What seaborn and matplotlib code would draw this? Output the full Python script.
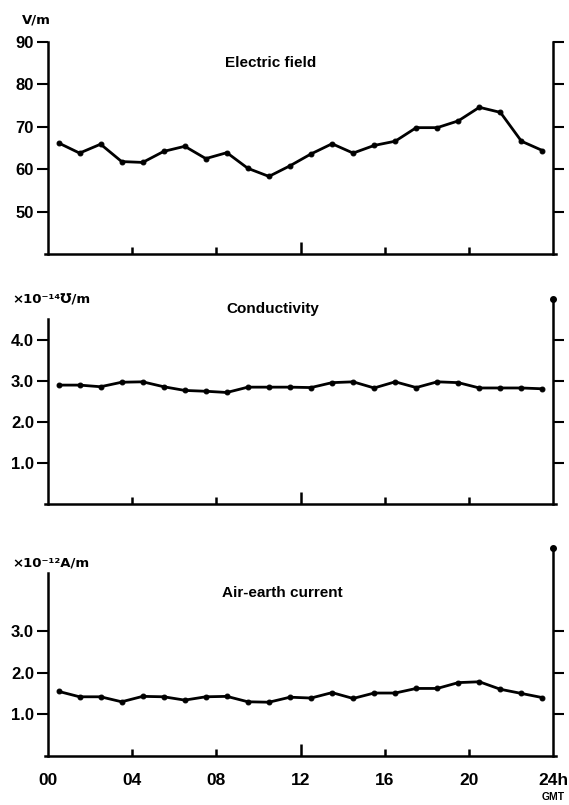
import numpy as np
import pandas as pd
import matplotlib
matplotlib.use("Agg")
import matplotlib.pyplot as plt
import seaborn as sns

sns.set_theme(style="white")
plt.rcParams['font.family'] = ['Liberation Sans', 'DejaVu Sans']
plt.rcParams['text.color'] = 'black'
plt.rcParams['xtick.color'] = 'black'
plt.rcParams['ytick.color'] = 'black'

hours = [0.5, 1.5, 2.5, 3.5, 4.5, 5.5, 6.5, 7.5, 8.5, 9.5, 10.5, 11.5,
         12.5, 13.5, 14.5, 15.5, 16.5, 17.5, 18.5, 19.5, 20.5, 21.5, 22.5, 23.5]
electric_field = [66.2, 63.8, 65.9, 61.8, 61.6, 64.2, 65.4, 62.5, 63.9, 60.2, 58.3, 60.8,
                  63.6, 66.0, 63.8, 65.6, 66.6, 69.8, 69.8, 71.4, 74.6, 73.4, 66.6, 64.4]
conductivity = [2.90, 2.90, 2.86, 2.97, 2.98, 2.86, 2.77, 2.75, 2.72, 2.85, 2.85, 2.85,
                2.84, 2.96, 2.98, 2.83, 2.98, 2.84, 2.98, 2.96, 2.83, 2.83, 2.83, 2.81]
air_earth = [1.55, 1.42, 1.42, 1.30, 1.43, 1.42, 1.34, 1.42, 1.43, 1.30, 1.29, 1.41,
             1.39, 1.52, 1.38, 1.51, 1.51, 1.62, 1.62, 1.76, 1.78, 1.60, 1.50, 1.40]

x_ticks = [0, 4, 8, 12, 16, 20, 24]
x_tick_labels = ["00", "04", "08", "12", "16", "20", "24h"]

panels = [
    dict(values=electric_field, title="Electric field", unit="V/m",
         ylim=(40, 90), left_top=90, lticks=[50, 60, 70, 80, 90],
         lticklabels=["50", "60", "70", "80", "90"], rticks=[50, 60, 70, 80, 90],
         pos=[48/569, 1-254/805, 505/569, 212/805], title_xy=(0.44, 0.9),
         unit_xy=(22/569, 1-20/805), dot=False),
    dict(values=conductivity, title="Conductivity", unit="×10⁻¹⁴℧/m",
         ylim=(0, 5.0), left_top=4.5, lticks=[1.0, 2.0, 3.0, 4.0],
         lticklabels=["1.0", "2.0", "3.0", "4.0"], rticks=[1.0, 2.0, 3.0, 4.0],
         pos=[48/569, 1-504/805, 505/569, 205/805], title_xy=(0.446, 0.95),
         unit_xy=(12/569, 1-300/805), dot=True),
    dict(values=air_earth, title="Air-earth current", unit="×10⁻¹²A/m",
         ylim=(0, 5.0), left_top=4.4, lticks=[1.0, 2.0, 3.0],
         lticklabels=["1.0", "2.0", "3.0"], rticks=[1.0, 2.0, 3.0],
         pos=[48/569, 1-756/805, 505/569, 208.5/805], title_xy=(0.463, 0.78),
         unit_xy=(12/569, 1-563/805), dot=True),
]

fig = plt.figure(figsize=(5.69, 8.05), dpi=100)

for i, p in enumerate(panels):
    ax = fig.add_axes(p["pos"])
    df = pd.DataFrame({"hour": hours, "value": p["values"]})
    sns.lineplot(data=df, x="hour", y="value", ax=ax, color="black", lw=2.0,
                 marker="o", markersize=3.5, markeredgecolor="black")
    ax.set_xlim(0, 24)
    ax.set_ylim(*p["ylim"])
    ax.set_xlabel("")
    ax.set_ylabel("")
    for s in ["left", "right", "bottom"]:
        ax.spines[s].set_visible(True)
        ax.spines[s].set_linewidth(1.8)
        ax.spines[s].set_color("black")
    ax.spines["top"].set_visible(False)
    ax.spines["left"].set_bounds(p["ylim"][0], p["left_top"])
    ax.spines["bottom"].set_bounds(-0.15, 24.15)

    ax.set_yticks(p["lticks"])
    ax.set_yticklabels(p["lticklabels"], fontsize=12, fontweight="bold")
    ax.tick_params(axis="y", which="major", left=True, direction="out",
                   length=8, width=1.5, pad=2, colors="black")

    # right-hand axis ticks (unlabelled)
    axr = ax.twinx()
    axr.set_ylim(*p["ylim"])
    axr.set_yticks(p["rticks"])
    axr.set_yticklabels([])
    axr.tick_params(axis="y", right=True, direction="out", length=8, width=1.5,
                    colors="black")
    for s in ["left", "right", "bottom", "top"]:
        axr.spines[s].set_visible(False)
    axr.grid(False)

    ax.set_xticks(x_ticks)
    if i == 2:
        ax.set_xticklabels(x_tick_labels, fontsize=12.5, fontweight="bold")
    else:
        ax.set_xticklabels([])
    ax.tick_params(axis="x", bottom=True, direction="in", length=5, width=1.8,
                   pad=12, colors="black")
    xt = ax.xaxis.get_major_ticks()
    xt[0].tick1line.set_visible(False)
    xt[-1].tick1line.set_visible(False)
    xt[3].tick1line.set_markersize(9)
    ax.grid(False)

    ax.text(p["title_xy"][0], p["title_xy"][1], p["title"], transform=ax.transAxes,
            ha="center", va="center", fontsize=11, fontweight="bold", color="black")
    fig.text(p["unit_xy"][0], p["unit_xy"][1], p["unit"], ha="left", va="center",
             fontsize=9.5, fontweight="bold", family=["DejaVu Sans"], color="black")
    if p["dot"]:
        ax.plot([1.0], [1.0], transform=ax.transAxes, marker="o", ms=4,
                color="black", clip_on=False)

fig.text(553/569, 1-797/805, "GMT", ha="center", va="center", fontsize=7.5,
         fontweight="bold", color="black")

fig.savefig("out.png", dpi=100, facecolor="white")
